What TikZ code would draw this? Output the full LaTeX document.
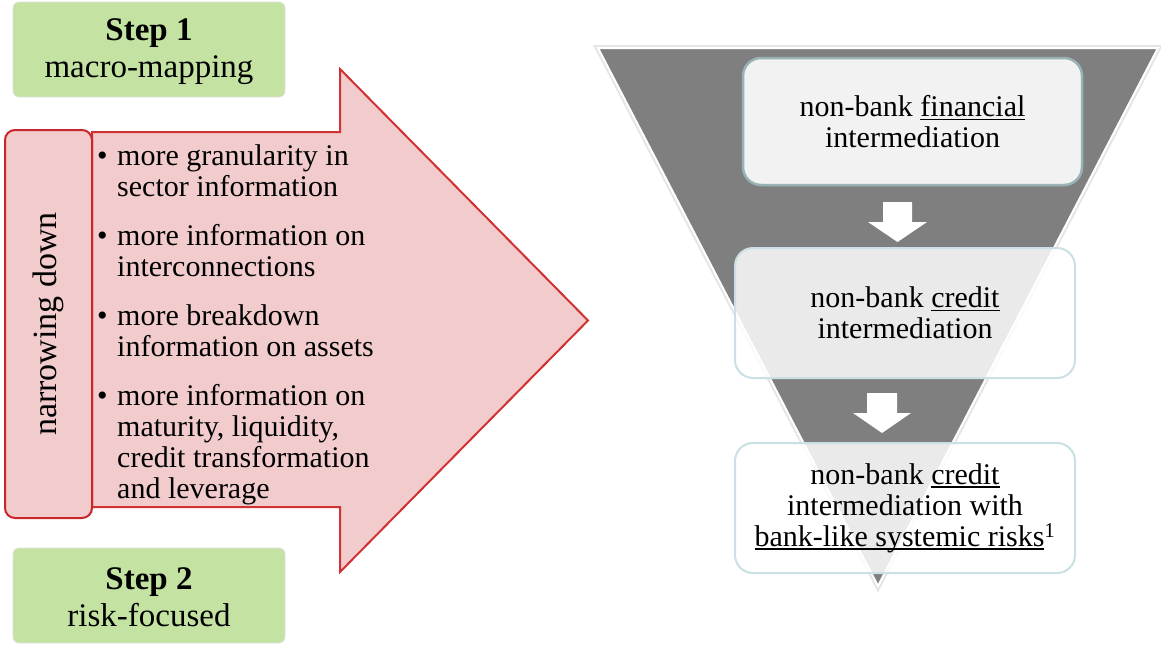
\documentclass[tikz,border=0pt]{standalone}
\usepackage{fontspec}
\setmainfont{Liberation Serif}
\definecolor{stepgreen}{HTML}{C4E3A2}
\definecolor{arrowpink}{HTML}{F2CCCD}
\definecolor{arrowred}{HTML}{D03234}
\definecolor{boxred}{HTML}{C8262A}
\definecolor{funnelgray}{HTML}{7F7F7F}
\definecolor{boxoneborder}{HTML}{98B2B6}
\definecolor{boxborder}{HTML}{C9E1E4}
\definecolor{boxonefill}{HTML}{F2F2F2}
\newsavebox{\myulbox}
\newcommand{\myul}[1]{\sbox{\myulbox}{#1}\rlap{\rule[-3.5pt]{\wd\myulbox}{1.3pt}}\usebox{\myulbox}}
\tikzset{
  stepbox/.style={draw=black!12, line width=0.8pt, fill=stepgreen, rounded corners=6pt,
    minimum width=272pt, minimum height=95pt, align=center, inner sep=0pt,
    font=\fontsize{33}{37}\selectfont},
  bulletitem/.style={anchor=base west, inner sep=0pt, align=left,
    font=\fontsize{30}{31}\selectfont},
  funnelbox/.style={rounded corners=18pt, align=center, inner sep=0pt,
    font=\fontsize{30}{31}\selectfont},
  firstbox/.style={funnelbox, draw=boxoneborder, line width=2.5pt, fill=boxonefill,
    minimum width=339pt, minimum height=127pt},
  otherbox/.style={funnelbox, draw=boxborder, line width=2pt, fill=white, fill opacity=0.84,
    text opacity=1, minimum width=340pt, minimum height=130pt},
  downarrow/.style={fill=white, draw=none}
}
\newcommand{\bitem}[1]{\makebox[20pt][l]{\textbullet}\parbox[t]{300pt}{#1}}
\begin{document}
\begin{tikzpicture}[x=1pt, y=-1pt]
\useasboundingbox (0,0) rectangle (1161,645);

% Step boxes
\node[stepbox] (step1) at (149,49.5) {};
\node[align=center, inner sep=0pt, font=\fontsize{33}{37}\selectfont] (step1text) at (149,52) {\textbf{Step 1}\\macro-mapping};
\node[stepbox] (step2) at (149,595.5) {};
\node[align=center, inner sep=0pt, font=\fontsize{33}{37}\selectfont] (step2text) at (149,597) {\textbf{Step 2}\\risk-focused};

% big arrow
\draw[fill=arrowpink, draw=arrowred, line width=2pt, line join=miter]
  (92,132) -- (340,132) -- (340,69) -- (588,320.5) -- (340,572) -- (340,507) -- (92,507) -- cycle;

% narrowing down box
\node[draw=boxred, line width=2pt, fill=arrowpink, rounded corners=10pt,
  minimum width=87pt, minimum height=388pt, inner sep=0pt] (narrow) at (48.5,324) {};
\node[rotate=90, font=\fontsize{34}{35}\selectfont, inner sep=0pt] (narrowtext) at (narrow.center) {narrowing down};

% bullets
\node[bulletitem] (b1) at (97,165) {\bitem{more granularity in\\sector information}};
\node[bulletitem] (b2) at (97,245) {\bitem{more information on\\interconnections}};
\node[bulletitem] (b3) at (97,325) {\bitem{more breakdown\\information on assets}};
\node[bulletitem] (b4) at (97,405) {\bitem{more information on\\maturity, liquidity,\\credit transformation\\and leverage}};

% funnel
\draw[draw=black!10, line width=6pt, line join=miter] (598,48) -- (1158,48) -- (878,586) -- cycle;
\draw[fill=funnelgray, draw=white, line width=2pt, line join=miter] (598,48) -- (1158,48) -- (878,586) -- cycle;

% boxes
\node[firstbox] (f1) at (912.5,121.5) {non-bank \myul{financial}\\intermediation};
\node[otherbox] (f2) at (905,313) {non-bank \myul{credit}\\intermediation};
\node[otherbox] (f3) at (905,508) {non-bank \myul{credit}\\intermediation with\\\myul{bank-like systemic risks}\textsuperscript{1}};

% down arrows
\fill[downarrow] (883,202) -- (912,202) -- (912,222) -- (927,222) -- (897.5,242) -- (868,222) -- (883,222) -- cycle;
\fill[downarrow] (867,393) -- (897,393) -- (897,413) -- (911,413) -- (882,433) -- (853,413) -- (867,413) -- cycle;
\end{tikzpicture}
\end{document}
